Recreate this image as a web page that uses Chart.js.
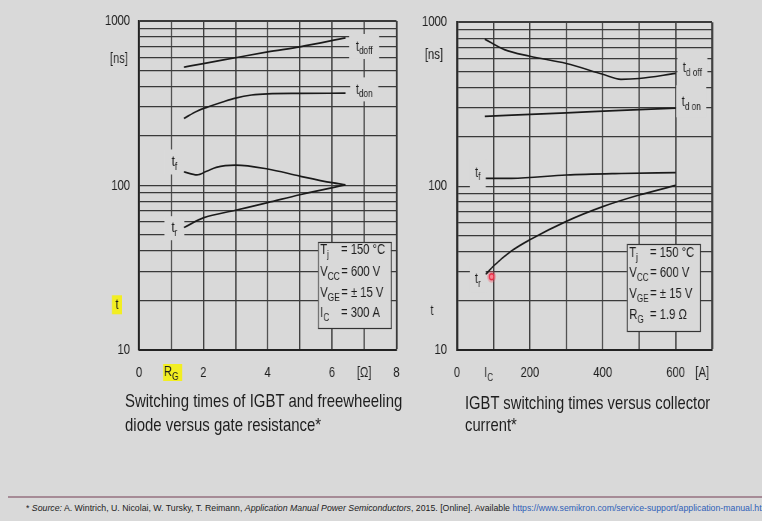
<!DOCTYPE html>
<html>
<head>
<meta charset="utf-8">
<script src="https://cdn.jsdelivr.net/npm/chart.js@4.4.1/dist/chart.umd.min.js"></script>
<style>
  html, body { margin: 0; padding: 0; width: 762px; height: 521px; overflow: hidden; background: #d9d9d9; }
  body { font-family: "Liberation Sans", Arial, sans-serif; color: #1e1e1e; }
  .panel { position: absolute; top: 0; width: 424px; height: 392px; transform: scaleX(0.75); transform-origin: 0 0; }
  .cap { position: absolute; font-size: 19px; line-height: 22px; white-space: nowrap; transform-origin: 0 50%; }
  #foot-line { position: absolute; left: 8px; right: 0; top: 496px; height: 2px; background: #a68b96; }
  #foot { position: absolute; left: 26px; top: 503px; font-size: 9px; line-height: 11px; white-space: nowrap; transform-origin: 0 0; color: #222; }
  #foot .lnk { color: #2f5fb8; }
</style>
</head>
<body>
<div class="panel" style="left:92px"><canvas id="rgChart" width="424" height="392"></canvas></div>
<div class="panel" style="left:412px"><canvas id="icChart" width="424" height="392"></canvas></div>

<div class="cap" id="capL1" style="left:125px; top:390px">Switching times of IGBT and freewheeling</div>
<div class="cap" id="capL2" style="left:125px; top:414px">diode versus gate resistance*</div>
<div class="cap" id="capR1" style="left:465px; top:392px">IGBT switching times versus collector</div>
<div class="cap" id="capR2" style="left:465px; top:414px">current*</div>

<div id="foot-line"></div>
<div id="foot">* <i>Source:</i> A. Wintrich, U. Nicolai, W. Tursky, T. Reimann, <i>Application Manual Power Semiconductors</i>, 2015. [Online]. Available <span class="lnk">https://www.semikron.com/service-support/application-manual.html</span></div>

<script>
// ---- data ----
// left: switching times vs gate resistance R_G [Ohm]
const rgTdoffX = [1.4, 2, 3, 4, 5, 6.42];
const rgTdoffY = [525, 551, 598, 649, 697, 790];
const rgTdonX = [1.4, 1.8, 2.2, 2.6, 3, 3.5, 4, 5, 6.42];
const rgTdonY = [256, 283, 303, 322, 340, 355, 361, 363, 364];
const rgTfX = [1.4, 1.8, 2.1, 2.4, 3, 4, 5, 6, 6.42];
const rgTfY = [121, 116, 122, 129, 133, 126, 114, 104, 101];
const rgTrX = [1.4, 2, 3, 4, 5, 6.42];
const rgTrY = [55.6, 63.5, 70.7, 78.7, 87.9, 101];

// right: switching times vs collector current I_C [A]
const icTdoffX = [76, 130, 200, 300, 400, 450, 500, 600];
const icTdoffY = [790, 681, 621, 561, 482, 449, 454, 488];
const icTdonX = [76, 300, 450, 600];
const icTdonY = [267, 280, 290, 299];
const icTfX = [79, 150, 300, 450, 600];
const icTfY = [111.7, 111.7, 117, 119.5, 121];
const icTrX = [79, 100, 150, 200, 300, 400, 500, 600];
const icTrY = [29, 32.5, 40.3, 47.1, 61, 75, 88.3, 101];

// laser pointer dot on the right chart
const pointerX = [95];
const pointerY = [28];

// axis ticks
const yTicks = [10, 20, 30, 40, 50, 60, 70, 80, 90, 100, 200, 300, 400, 500, 600, 700, 800, 900, 1000];
const yTickLabels = { 10: '10', 100: '100', 1000: '1000' };
const rgTickLabels = ['0', '', '2', '', '4', '', '6', '[\u03A9]', '8'];
const icTickLabels = ['0', '', '200', '', '400', '', '600', ''];

// the slide is squeezed sideways, canvases are drawn wide and scaled by K
const K = 0.75;
const FONT = '"Liberation Sans", Arial, sans-serif';
const INK = '#1e1e1e';
const GRID = '#3a3a3a';
const BG = '#d9d9d9';
const HILITE = '#f2ee22';

function pts(xs, ys) {
  return xs.map((x, i) => ({ x: x, y: ys[i] }));
}

function curve(xs, ys) {
  return {
    data: pts(xs, ys),
    borderColor: '#1a1a1a',
    borderWidth: 1.7,
    pointRadius: 0,
    fill: false,
    cubicInterpolationMode: 'monotone',
  };
}

/**
 * Draw "main" with a subscript, returns x where the text ends
 */
function drawSub(ctx, x, y, main, sub, size, center) {
  const subSize = Math.round(size * 0.7);
  ctx.font = size + 'px ' + FONT;
  const mw = ctx.measureText(main).width;
  ctx.font = subSize + 'px ' + FONT;
  const sw = ctx.measureText(sub).width;
  const x0 = center ? x - (mw + sw) / 2 : x;
  ctx.textAlign = 'left';
  ctx.textBaseline = 'middle';
  ctx.fillStyle = INK;
  ctx.font = size + 'px ' + FONT;
  ctx.fillText(main, x0, y);
  ctx.font = subSize + 'px ' + FONT;
  ctx.fillText(sub, x0 + mw, y + size * 0.32);
  return x0 + mw + sw;
}

/**
 * Plugin drawing the curve names, the condition box and the odd axis texts.
 * x positions in the spec are page pixels, converted to canvas units here.
 */
function figureTextPlugin(spec, left) {
  const cx = (px) => (px - left) / K;
  const cw = (w) => w / K;
  return {
    id: 'figureText',
    beforeDatasetsDraw(chart) {
      const ctx = chart.ctx;
      const xs = chart.scales.x;
      const ys = chart.scales.y;
      ctx.save();
      // curve names sit on small blank patches that interrupt the grid
      spec.names.forEach((n) => {
        const px = xs.getPixelForValue(n.x);
        const py = ys.getPixelForValue(n.y);
        ctx.fillStyle = BG;
        ctx.fillRect(px - cw(n.w) / 2, py + (n.dy || 0) - n.h / 2, cw(n.w), n.h);
        drawSub(ctx, px, py, 't', n.sub, 15, true);
      });
      // condition box
      const b = spec.box;
      const bx = cx(b.x);
      ctx.fillStyle = BG;
      ctx.fillRect(bx, b.y, cw(b.w), b.h);
      ctx.strokeStyle = '#333';
      ctx.lineWidth = 1.2;
      ctx.strokeRect(bx + 0.5, b.y + 0.5, cw(b.w), b.h);
      b.rows.forEach((r, i) => {
        const y = b.y + b.rowY[i];
        const end = drawSub(ctx, bx + 3, y, r[0], r[1], 15, false);
        ctx.font = '15px ' + FONT;
        ctx.fillText(r[2], Math.max(bx + cw(b.eq), end + 2), y);
      });
      ctx.restore();
    },
    afterDraw(chart) {
      const ctx = chart.ctx;
      const xs = chart.scales.x;
      const ys = chart.scales.y;
      ctx.save();
      // [ns] unit and the "t" axis letter
      ctx.fillStyle = INK;
      ctx.font = '15px ' + FONT;
      ctx.textAlign = 'right';
      ctx.textBaseline = 'middle';
      ctx.fillText('[ns]', cx(spec.unitX), ys.getPixelForValue(spec.unitY));
      const ty = ys.getPixelForValue(spec.tY);
      const tx = cx(spec.tX);
      if (spec.hilite) {
        ctx.fillStyle = HILITE;
        ctx.fillRect(tx - cw(5), ty - 10, cw(10), 19);
      }
      ctx.fillStyle = INK;
      ctx.textAlign = 'center';
      ctx.fillText('t', tx, ty);
      // x quantity (R_G / I_C)
      const qx = xs.getPixelForValue(spec.qX);
      if (spec.hilite) {
        ctx.fillStyle = HILITE;
        ctx.fillRect(qx - cw(8), spec.labelY - 8, cw(19), 17);
      }
      drawSub(ctx, qx, spec.labelY, spec.q[0], spec.q[1], 15, true);
      if (spec.unitXText) {
        ctx.font = '15px ' + FONT;
        ctx.textAlign = 'center';
        ctx.fillStyle = INK;
        ctx.fillText(spec.unitXText, xs.getPixelForValue(spec.unitXAt), spec.labelY);
      }
      ctx.restore();
    },
  };
}

function makeChart(canvasId, cfg) {
  const tickFont = { family: FONT, size: 15 };
  const yWidth = (cfg.plotLeft - cfg.left) / K;
  const padRight = 424 - (cfg.plotRight - cfg.left) / K;
  return new Chart(document.getElementById(canvasId), {
    type: 'line',
    data: { datasets: cfg.datasets },
    options: {
      responsive: false,
      animation: false,
      devicePixelRatio: 1,
      layout: { padding: { top: 19, right: padRight, left: 0, bottom: 0 } },
      plugins: { legend: { display: false }, tooltip: { enabled: false } },
      scales: {
        x: {
          type: 'linear',
          min: 0,
          max: cfg.xMax,
          afterBuildTicks: (s) => {
            s.ticks = cfg.xLabels.map((_, i) => ({ value: i * cfg.xStep }));
          },
          afterFit: (s) => { s.height = 42; },
          ticks: {
            autoSkip: false,
            maxRotation: 0,
            padding: 14,
            color: INK,
            font: tickFont,
            callback: (v) => cfg.xLabels[Math.round(v / cfg.xStep)],
          },
          grid: {
            drawTicks: false,
            color: GRID,
            lineWidth: (c) => (c.tick && c.tick.value === cfg.xMax ? 2.6 : 1.7),
          },
          border: { color: '#222', width: 2 },
        },
        y: {
          type: 'logarithmic',
          min: 10,
          max: 1000,
          afterBuildTicks: (s) => {
            s.ticks = yTicks.map((v) => ({ value: v }));
          },
          afterFit: (s) => { s.width = yWidth; },
          ticks: {
            autoSkip: false,
            padding: cfg.yPad / K,
            color: INK,
            font: tickFont,
            callback: (v) => yTickLabels[v] || '',
          },
          grid: {
            drawTicks: false,
            color: GRID,
            lineWidth: (c) => (c.tick && c.tick.value === 1000 ? 2 : 1.3),
          },
          border: { color: '#222', width: 2.6 },
        },
      },
    },
    plugins: [figureTextPlugin(cfg.text, cfg.left)],
  });
}

makeChart('rgChart', {
  left: 92,
  plotLeft: 139,
  plotRight: 399,
  xMax: 8,
  xStep: 1,
  xLabels: rgTickLabels,
  yPad: 9,
  datasets: [
    curve(rgTdoffX, rgTdoffY),
    curve(rgTdonX, rgTdonY),
    curve(rgTfX, rgTfY),
    curve(rgTrX, rgTrY),
  ],
  text: {
    names: [
      { x: 7.0, y: 700, sub: 'doff', w: 30, h: 25 },
      { x: 7.0, y: 384, sub: 'don', w: 28, h: 24 },
      { x: 1.1, y: 139, sub: 'f', w: 20, h: 25 },
      { x: 1.1, y: 55, sub: 'r', w: 20, h: 24 },
    ],
    box: {
      x: 318, y: 242, w: 73, h: 86, eq: 23,
      rowY: [8, 30, 51, 71],
      rows: [['T', 'j', '= 150 \u00B0C'], ['V', 'CC', '= 600 V'], ['V', 'GE', '= \u00B1 15 V'], ['I', 'C', '= 300 A']],
    },
    unitX: 128, unitY: 590,
    tX: 117, tY: 18.7,
    hilite: true,
    q: ['R', 'G'], qX: 1, labelY: 372,
  },
});

makeChart('icChart', {
  left: 412,
  plotLeft: 457,
  plotRight: 712,
  xMax: 700,
  xStep: 100,
  xLabels: icTickLabels,
  yPad: 10,
  datasets: [
    curve(icTdoffX, icTdoffY),
    curve(icTdonX, icTdonY),
    curve(icTfX, icTfY),
    curve(icTrX, icTrY),
    {
      type: 'scatter',
      data: pts(pointerX, pointerY),
      pointRadius: 6,
      pointBackgroundColor: 'rgba(245, 80, 100, 0.35)',
      pointBorderWidth: 0,
    },
    {
      type: 'scatter',
      data: pts(pointerX, pointerY),
      pointRadius: 3,
      pointBackgroundColor: 'rgba(255, 150, 160, 0.9)',
      pointBorderColor: '#e11d3a',
      pointBorderWidth: 1.5,
    },
  ],
  text: {
    names: [
      { x: 646, y: 528, sub: 'd off', w: 30, h: 30 },
      { x: 643, y: 325, sub: 'd on', w: 30, h: 32, dy: -1 },
      { x: 57, y: 121, sub: 'f', w: 16, h: 32, dy: 3 },
      { x: 57, y: 27.2, sub: 'r', w: 16, h: 27 },
    ],
    box: {
      x: 627, y: 244, w: 73, h: 87, eq: 23,
      rowY: [9, 29, 50, 71],
      rows: [['T', 'j', '= 150 \u00B0C'], ['V', 'CC', '= 600 V'], ['V', 'GE', '= \u00B1 15 V'], ['R', 'G', '= 1.9 \u03A9']],
    },
    unitX: 443, unitY: 633,
    tX: 432, tY: 17.4,
    hilite: false,
    q: ['I', 'C'], qX: 87, labelY: 373,
    unitXText: '[A]', unitXAt: 673,
  },
});

// squeeze the captions and footer to the widths in the slide
function fitWidth(ids, target) {
  const first = document.getElementById(ids[0]);
  const k = target / first.scrollWidth;
  ids.forEach((id) => {
    document.getElementById(id).style.transform = 'scaleX(' + k + ')';
  });
}
fitWidth(['capL1', 'capL2'], 277);
fitWidth(['capR1', 'capR2'], 245);
fitWidth(['foot'], 745);
</script>
</body>
</html>
